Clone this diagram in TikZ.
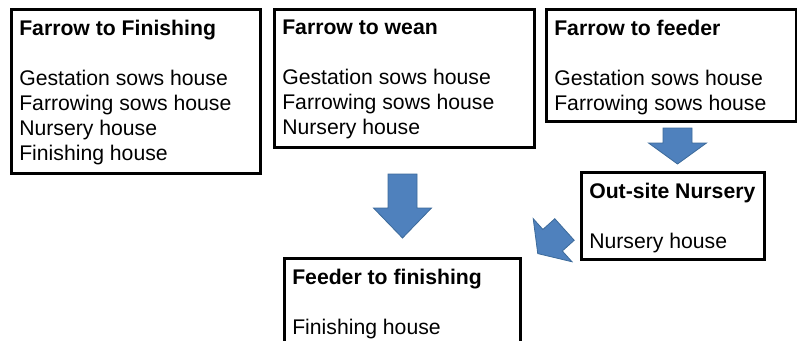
\documentclass[tikz,border=0pt]{standalone}
\usepackage{fontspec}
\setmainfont{Liberation Sans}
\usepackage{tikz}
\usetikzlibrary{positioning}
\definecolor{arrowblue}{HTML}{4F81BD}
\definecolor{arrowedge}{HTML}{3C6A9A}
\tikzstyle{frame}     = [rectangle, draw=black, line width=1.9pt,
                         anchor=north west, inner sep=0pt]
\tikzstyle{txt}       = [inner sep=0pt, align=left,
                         font=\fontsize{15.9}{18.75}\selectfont]
\tikzstyle{arrowfill} = [fill=arrowblue, draw=arrowedge, line width=0.6pt]
\tikzset{pics/blockarrow/.style 2 args={code={
  \draw[arrowfill] (-14.5,0) -- (-14.5,#1) -- (-29,#1) -- (0,#2)
                   -- (29,#1) -- (14.5,#1) -- (14.5,0) -- cycle;}}}

\begin{document}
\begin{tikzpicture}[x=0.75pt, y=-0.75pt]
  \useasboundingbox (0,0) rectangle (797,340);
  % house boxes
  \node[frame, minimum width=249*0.75pt, minimum height=164*0.75pt] (fin)  at (10,8)   {};
  \node[frame, minimum width=260*0.75pt, minimum height=138*0.75pt] (wean) at (273,8)  {};
  \node[frame, minimum width=250*0.75pt, minimum height=112*0.75pt] (feed) at (545,8)  {};
  \node[frame, minimum width=183*0.75pt, minimum height=87*0.75pt]  (nur)  at (580,171) {};
  \node[frame, minimum width=236*0.75pt, minimum height=100*0.75pt] (ffin) at (283,257) {};

  \node[txt, below right=9pt and 6.75pt of fin.north west] (fin-txt)
        {\textbf{Farrow to Finishing}\\[18.75pt]Gestation sows house\\
         Farrowing sows house\\Nursery house\\Finishing house};
  \node[txt, below right=9pt and 6.75pt of wean.north west] (wean-txt)
        {\textbf{Farrow to wean}\\[18.75pt]Gestation sows house\\
         Farrowing sows house\\Nursery house};
  \node[txt, below right=9pt and 6.75pt of feed.north west] (feed-txt)
        {\textbf{Farrow to feeder}\\[18.75pt]Gestation sows house\\
         Farrowing sows house};
  \node[txt, below right=9pt and 6.75pt of nur.north west] (nur-txt)
        {\textbf{Out-site Nursery}\\[18.75pt]Nursery house};
  \node[txt, below right=9pt and 6.75pt of ffin.north west] (ffin-txt)
        {\textbf{Feeder to finishing}\\[18.75pt]Finishing house};

  % block arrows
  \pic at (402.5,174)               {blockarrow={34}{64}};
  \pic at (677.5,128)               {blockarrow={15}{36}};
  \pic[rotate=-48] at (564.5,229.5) {blockarrow={16}{36}};
\end{tikzpicture}
\end{document}
